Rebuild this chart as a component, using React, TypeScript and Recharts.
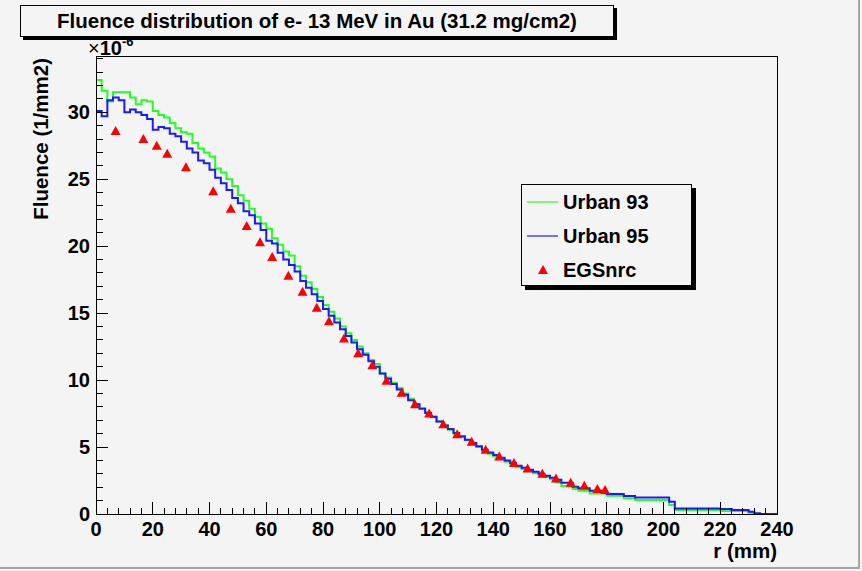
import React from 'react';
import { ComposedChart, Line, Scatter, XAxis, YAxis, Legend } from 'recharts';

// fluence in units of 1e-6 / mm2, histogram bins of 2 mm starting at r = 0
const BIN_WIDTH = 2;

const URBAN_93 = [
  32.4, 31.6, 30.8, 31.5, 31.5, 31.5, 31.1, 30.6, 30.9, 30.8,
  30.1, 29.8, 29.6, 29.2, 28.8, 28.5, 28.4, 27.7, 27.3, 27.0,
  26.7, 25.8, 25.5, 25.0, 24.5, 23.8, 23.4, 22.8, 22.2, 21.7,
  21.3, 20.6, 20.1, 19.6, 19.3, 18.5, 17.8, 17.3, 16.8, 16.2,
  15.6, 15.1, 14.6, 14.0, 13.5, 13.0, 12.5, 12.0, 11.5, 11.2,
  10.5, 10.2, 9.8, 9.4, 9.0, 8.6, 8.2, 7.9, 7.6, 7.3,
  6.9, 6.6, 6.3, 6.0, 5.75, 5.5, 5.25, 5.0, 4.75, 4.5,
  4.3, 4.1, 3.9, 3.7, 3.5, 3.35, 3.2, 3.05, 2.9, 2.75,
  2.6, 2.35, 2.1, 2.05, 1.87, 1.74, 1.74, 1.54, 1.54, 1.54,
  1.37, 1.37, 1.37, 1.17, 1.17, 1.04, 1.04, 1.04, 1.04, 1.04,
  1.04, 0.67, 0.3, 0.3, 0.3, 0.3, 0.3, 0.3, 0.3, 0.3,
  0.22, 0.22, 0.22, 0.22, 0.22, 0.1, 0, 0, 0, 0,
];

const URBAN_95 = [
  30.1, 29.7, 30.9, 31.1, 30.9, 30.0, 30.2, 30.0, 29.8, 29.5,
  28.7, 28.9, 28.8, 28.4, 28.2, 27.8, 27.3, 27.0, 26.4, 26.2,
  25.7, 25.1, 24.7, 24.2, 23.6, 23.2, 22.6, 22.3, 21.7, 21.2,
  20.4, 20.2, 19.5, 19.0, 18.6, 18.1, 17.4, 16.9, 16.4, 15.9,
  15.3, 14.8, 14.3, 13.8, 13.3, 12.8, 12.3, 11.9, 11.4, 11.0,
  10.5, 10.1, 9.7, 9.3, 8.9, 8.5, 8.2, 7.85, 7.55, 7.25,
  6.9, 6.6, 6.35, 6.05, 5.8, 5.55, 5.3, 5.05, 4.8, 4.6,
  4.4, 4.2, 4.0, 3.8, 3.6, 3.45, 3.3, 3.15, 3.0, 2.85,
  2.7, 2.55, 2.34, 2.34, 2.04, 1.92, 1.92, 1.74, 1.74, 1.74,
  1.49, 1.49, 1.49, 1.34, 1.34, 1.24, 1.24, 1.24, 1.24, 1.24,
  1.24, 0.92, 0.42, 0.42, 0.42, 0.42, 0.42, 0.42, 0.42, 0.42,
  0.37, 0.37, 0.3, 0.3, 0.3, 0.17, 0.05, 0, 0, 0,
];

const EGS_R = [
  6.9, 16.7, 21.4, 25.1, 31.7, 41.3, 47.5, 53.1, 57.8, 62.1,
  67.8, 72.8, 77.8, 82.1, 87.4, 92.4, 97.4, 102.4, 107.7, 112.4,
  117.4, 122.4, 127.3, 132.4, 137.3, 142.1, 147.3, 152.1, 157.3, 162.1,
  167.3, 172.1, 176.7, 179.4,
];
const EGS_FLUENCE = [
  28.6, 28.0, 27.5, 26.9, 25.9, 24.1, 22.8, 21.5, 20.3, 19.2,
  17.8, 16.6, 15.4, 14.4, 13.1, 12.0, 11.1, 9.95, 9.05, 8.2,
  7.5, 6.7, 5.95, 5.4, 4.8, 4.3, 3.8, 3.4, 3.0, 2.65,
  2.34, 2.11, 1.87, 1.79,
];

const SERIES_NAMES = ['Urban 93', 'Urban 95', 'EGSnrc'];

const X_MAX = 240;
const Y_MAX = 34.2;
const X_MAJOR = 20;
const X_MINOR = 4;
const Y_MAJOR = 5;
const Y_MINOR = 1;

const FONT = '"Liberation Sans", Arial, Helvetica, sans-serif';
const BG = '#f4f4f4';

const xTicks: number[] = [];
for (let t = 0; t <= X_MAX; t += X_MINOR) xTicks.push(t);
const yTicks: number[] = [];
for (let t = 0; t <= Math.floor(Y_MAX); t += Y_MINOR) yTicks.push(t);

const histSteps = (values: number[]) => {
  const pts = values.map((v, i) => ({ r: i * BIN_WIDTH, v }));
  pts.push({ r: values.length * BIN_WIDTH, v: values[values.length - 1] });
  return pts;
};

const urban93Data = histSteps(URBAN_93);
const urban95Data = histSteps(URBAN_95);
const egsData = EGS_R.map((r, i) => ({ r, v: EGS_FLUENCE[i] }));

const XTick = (props: any) => {
  const { x, y, payload } = props;
  const major = payload.value % X_MAJOR === 0;
  return (
    <g>
      <line x1={x} x2={x} y1={y} y2={y - (major ? 12 : 6)} stroke="#000" shapeRendering="crispEdges" />
      {major && (
        <text x={x} y={y + 22} textAnchor="middle" fontFamily={FONT} fontWeight="bold" fontSize={20} fill="#000">
          {payload.value}
        </text>
      )}
    </g>
  );
};

const YTick = (props: any) => {
  const { x, y, payload } = props;
  const major = payload.value % Y_MAJOR === 0;
  return (
    <g>
      <line x1={x} x2={x + (major ? 12 : 7)} y1={y} y2={y} stroke="#000" shapeRendering="crispEdges" />
      {major && (
        <text x={x - 6} y={y + 7} textAnchor="end" fontFamily={FONT} fontWeight="bold" fontSize={20} fill="#000">
          {payload.value}
        </text>
      )}
    </g>
  );
};

const Triangle = (props: any) => {
  const { cx, cy } = props;
  if (cx == null || cy == null) return null;
  return <polygon points={`${cx},${cy - 5} ${cx - 5},${cy + 4} ${cx + 5},${cy + 4}`} fill="#ff0000" />;
};

const LegendBox = (props: any) => {
  const items = [...(props.payload || [])].sort(
    (a: any, b: any) => SERIES_NAMES.indexOf(a.value) - SERIES_NAMES.indexOf(b.value)
  );
  return (
    <div
      style={{
        width: 171,
        height: 102,
        boxSizing: 'border-box',
        border: '1px solid #000',
        background: BG,
        boxShadow: '4px 4px 0 #000',
      }}
    >
      <svg width={169} height={100}>
        {items.map((entry: any, i: number) => {
          const cy = 17 + i * 34;
          return (
            <g key={entry.value}>
              {entry.type === 'triangle' ? (
                <Triangle cx={21} cy={cy} />
              ) : (
                <line x1={5} x2={36} y1={cy} y2={cy} stroke={entry.color} strokeWidth={1.2} />
              )}
              <text x={41} y={cy + 7} fontFamily={FONT} fontWeight="bold" fontSize={20} fill="#000">
                {entry.value}
              </text>
            </g>
          );
        })}
      </svg>
    </div>
  );
};

export default function App() {
  return (
    <div style={{ position: 'absolute', left: 0, top: 0, width: 862, height: 571, background: BG, overflow: 'hidden' }}>
      <div
        style={{
          position: 'absolute',
          left: 0,
          top: 0,
          width: 860,
          height: 569,
          boxSizing: 'border-box',
          borderRight: '2px solid #a6a6a6',
          borderBottom: '2px solid #a6a6a6',
        }}
      />
      <ComposedChart
        width={862}
        height={571}
        margin={{ top: 56, right: 85, bottom: 27, left: 56 }}
        style={{ position: 'absolute', left: 0, top: 0 }}
      >
        <XAxis
          dataKey="r"
          type="number"
          domain={[0, X_MAX]}
          ticks={xTicks}
          interval={0}
          height={30}
          axisLine={false}
          tickLine={false}
          tickSize={0}
          tickMargin={0}
          tick={<XTick />}
          allowDataOverflow
        />
        <YAxis
          type="number"
          domain={[0, Y_MAX]}
          ticks={yTicks}
          interval={0}
          width={40}
          axisLine={false}
          tickLine={false}
          tickSize={0}
          tickMargin={0}
          tick={<YTick />}
          allowDataOverflow
        />
        <Line
          data={urban93Data}
          dataKey="v"
          name="Urban 93"
          type="stepAfter"
          stroke="#22ff22"
          strokeWidth={2}
          dot={false}
          legendType="line"
          isAnimationActive={false}
        />
        <Line
          data={urban95Data}
          dataKey="v"
          name="Urban 95"
          type="stepAfter"
          stroke="#1a1aff"
          strokeWidth={2}
          dot={false}
          legendType="line"
          isAnimationActive={false}
        />
        <Scatter
          data={egsData}
          dataKey="v"
          name="EGSnrc"
          fill="#ff0000"
          shape={<Triangle />}
          legendType="triangle"
          isAnimationActive={false}
        />
        <Legend
          layout="vertical"
          align="center"
          verticalAlign="middle"
          content={<LegendBox />}
          wrapperStyle={{ left: 521, top: 184, width: 171, height: 102 }}
        />
      </ComposedChart>
      <div
        style={{
          position: 'absolute',
          left: 96,
          top: 56,
          width: 682,
          height: 459,
          boxSizing: 'border-box',
          border: '1px solid #000',
          pointerEvents: 'none',
        }}
      />
      <div
        style={{
          position: 'absolute',
          left: 20,
          top: 5,
          width: 594,
          height: 32,
          boxSizing: 'border-box',
          border: '1px solid #000',
          boxShadow: '3px 3px 0 #000',
          background: BG,
          fontFamily: FONT,
          fontWeight: 'bold',
          fontSize: 20.5,
          lineHeight: '30px',
          textAlign: 'center',
          color: '#000',
        }}
      >
        Fluence distribution of e- 13 MeV in Au (31.2 mg/cm2)
      </div>
      <svg width={862} height={571} style={{ position: 'absolute', left: 0, top: 0, pointerEvents: 'none' }}>
        <text x={88} y={55} fontFamily={FONT} fontSize={20} fill="#000">
          ×<tspan fontWeight="bold">10</tspan>
          <tspan fontWeight="bold" fontSize={13} dy={-9}>-6</tspan>
        </text>
        <text
          x={48}
          y={58}
          transform="rotate(-90 48 58)"
          textAnchor="end"
          fontFamily={FONT}
          fontWeight="bold"
          fontSize={20.5}
          fill="#000"
        >
          Fluence (1/mm2)
        </text>
        <text x={777} y={558} textAnchor="end" fontFamily={FONT} fontWeight="bold" fontSize={20.5} fill="#000">
          r (mm)
        </text>
      </svg>
    </div>
  );
}
